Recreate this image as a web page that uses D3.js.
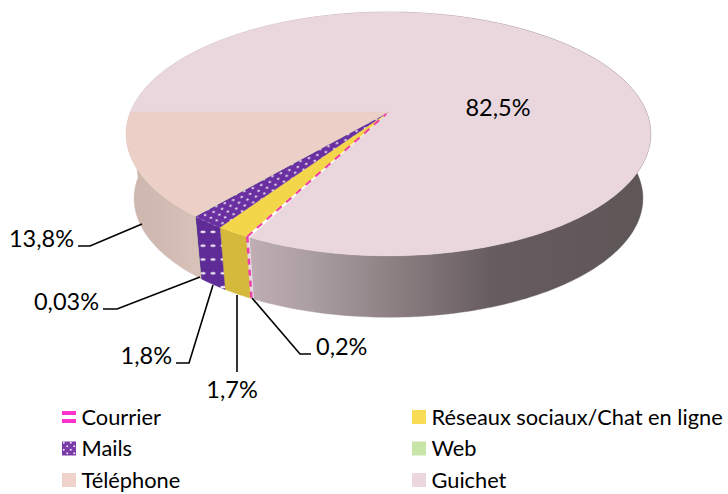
<!DOCTYPE html>
<html><head><meta charset="utf-8">
<script src="https://cdnjs.cloudflare.com/ajax/libs/d3/7.8.5/d3.min.js"></script>
<style>html,body{margin:0;padding:0;background:#fff}svg{display:block}text{font-family:Lato,"Open Sans",sans-serif;fill:#000}</style>
</head><body><svg id="c" width="728" height="494"></svg>
<script>
// Data, in drawing order (clockwise from the 9 o'clock position)
const sliceNames  = ["Guichet","Courrier","Réseaux sociaux/Chat en ligne","Mails","Web","Téléphone"];
const sliceValues = [82.5,0.2,1.7,1.8,0.03,13.8];
const sliceLabels = ["82,5%","0,2%","1,7%","1,8%","0,03%","13,8%"];
const legendNames = ["Courrier","Réseaux sociaux/Chat en ligne","Mails","Web","Téléphone","Guichet"];
const topColors   = {"Guichet":"#ead6dd","Courrier":"#ffffff","Réseaux sociaux/Chat en ligne":"#f4d64a","Mails":"url(#dotsTop)","Web":"#c6e2a4","Téléphone":"#ecd0c7"};
const sideColors  = {"Guichet":"url(#guiSide)","Courrier":"#e6dbe6","Réseaux sociaux/Chat en ligne":"#d5b93c","Mails":"url(#dotsSide)","Web":"#a9c48b","Téléphone":"url(#telSide)"};
const legendColors= {"Courrier":"url(#courLeg)","Réseaux sociaux/Chat en ligne":"#f8dc55","Mails":"url(#dotsLeg)","Web":"#c8e5a8","Téléphone":"#efd2ca","Guichet":"#ecd7df"};

const svg=d3.select("#c"), defs=svg.append("defs");
// perspective projection of the disc
const cx=388.5, a=258, k=0.18;
const yTop=d3.scaleLinear().domain([0,1]).range([112,230]);
const yBot=d3.scaleLinear().domain([0,1]).range([177,292]);
const xBotScale=0.97;
const proj=(ang,r,level)=>{
  const u=Math.sin(ang)*r, v=-Math.cos(ang)*r, w=1-k*v;
  return level===0 ? [cx+a*u/w, yTop(v/w)] : [cx+a*xBotScale*u/w, yBot(v/w)];
};
const arcs=d3.pie().sort(null).startAngle(1.5*Math.PI).endAngle(3.5*Math.PI).value(d=>d)(sliceValues);
const line=d3.line();
const samples=(s,e,level)=>d3.range(0,1.0001,1/Math.max(2,Math.ceil(Math.abs(e-s)*60))).map(t=>proj(s+(e-s)*t,1,level));

// gradients and patterns
function grad(id,x1,x2,stops){const g=defs.append("linearGradient").attr("id",id).attr("gradientUnits","userSpaceOnUse").attr("x1",x1).attr("x2",x2).attr("y1",0).attr("y2",0);
 stops.forEach(s=>g.append("stop").attr("offset",s[0]).attr("stop-color",s[1]));}
grad("guiSide",250,640,[[0,"#bfaeb3"],[.15,"#ac9fa3"],[.38,"#8a7e81"],[.62,"#675c5f"],[1,"#5f5658"]]);
grad("telSide",125,200,[[0,"#ccb6ae"],[.5,"#d0bab2"],[1,"#d9c2b9"]]);
function dots(id,w,h,tr,bg,rx,ry,grid){const p=defs.append("pattern").attr("id",id).attr("patternUnits","userSpaceOnUse").attr("width",w).attr("height",h).attr("patternTransform",tr);
 p.append("rect").attr("width",w).attr("height",h).attr("fill",bg);
 (grid?[[w/2,h/2]]:[[w/4,h/4],[3*w/4,3*h/4]]).forEach(c=>p.append("ellipse").attr("cx",c[0]).attr("cy",c[1]).attr("rx",rx).attr("ry",ry).attr("fill","#ece4f2"));}
dots("dotsTop",9,9,"rotate(-20)","#6a2fa0",1.4,1.1,false);
dots("dotsSide",10,13.8,"translate(198,225)","#5f2b96",2.7,1.3,true);
dots("dotsLeg",7,7,"translate(62,441)","#7a3aa8",1,1,false);
const cl=defs.append("pattern").attr("id","courLeg").attr("patternUnits","objectBoundingBox").attr("width",1).attr("height",1);
cl.append("rect").attr("width",14).attr("height",14).attr("fill","#fff");
cl.append("rect").attr("width",14).attr("height",4).attr("y",1).attr("fill","#ff33cc");
cl.append("rect").attr("width",14).attr("height",4).attr("y",9).attr("fill","#ff33cc");

// side walls, then top faces
const g=svg.append("g");
arcs.forEach((d,i)=>{
  const top=samples(d.startAngle,d.endAngle,0), bot=samples(d.startAngle,d.endAngle,1).reverse();
  g.append("path").attr("d",line(top.concat(bot))+"Z").attr("fill",sideColors[sliceNames[i]])
   .attr("stroke",sideColors[sliceNames[i]]).attr("stroke-width",.4);
});
arcs.forEach((d,i)=>{
  const c=proj(0,0,0), top=samples(d.startAngle,d.endAngle,0);
  g.append("path").attr("d",line([c].concat(top))+"Z").attr("fill",topColors[sliceNames[i]])
   .attr("stroke",topColors[sliceNames[i]]).attr("stroke-width",.3);
});
// dashed pink on the Courrier slice
const cour=arcs[sliceNames.indexOf("Courrier")];
const edge=(cour.startAngle+cour.endAngle*2)/3;
const dash=(pts,da,w)=>g.append("path").attr("d",line(pts)).attr("fill","none").attr("stroke","#ee3fa6").attr("stroke-width",w).attr("stroke-dasharray",da);
dash([proj(edge,1,0),proj(edge,.02,0)],"7 6",2);
dash([proj(edge,1,0),proj(edge,1,1)],"6 5",2.5);

// leader lines and labels, placed per label
const leader=[
 {n:"Téléphone",pts:[[78,246],[90,246],[142,224]],tx:74,ty:239,an:"end"},
 {n:"Web",pts:[[103,309],[117,309],[200,277]],tx:99,ty:302,an:"end"},
 {n:"Mails",pts:[[176,363],[189,363],[213,285]],tx:172,ty:356,an:"end"},
 {n:"Réseaux sociaux/Chat en ligne",pts:[[237,372],[237,295]],tx:232,ty:390,an:"middle"},
 {n:"Courrier",pts:[[311,354],[300,354],[252,298]],tx:316,ty:347,an:"start"},
];
leader.forEach(l=>{
 svg.append("path").attr("d",line(l.pts)).attr("fill","none").attr("stroke","#000").attr("stroke-width",1.6);
 svg.append("text").attr("x",l.tx).attr("y",l.ty).attr("dy","0.35em").attr("text-anchor",l.an).attr("font-size",23.5)
   .text(sliceLabels[sliceNames.indexOf(l.n)]);
});
svg.append("text").attr("x",498).attr("y",108).attr("dy","0.35em").attr("text-anchor","middle").attr("font-size",23.5).text(sliceLabels[0]);

// legend
const lx=d3.scalePoint().domain([0,1]).range([62,412]);
const ly=d3.scalePoint().domain([0,1,2]).range([417,480]);
legendNames.forEach((n,i)=>{
 const col=i%2,row=(i-col)/2;
 svg.append("rect").attr("x",lx(col)).attr("y",ly(row)-7).attr("width",14).attr("height",14).attr("fill",legendColors[n]);
 svg.append("text").attr("x",lx(col)+19.5).attr("y",ly(row)).attr("dy","0.35em").attr("font-size",21.8).text(n);
});
</script></body></html>
